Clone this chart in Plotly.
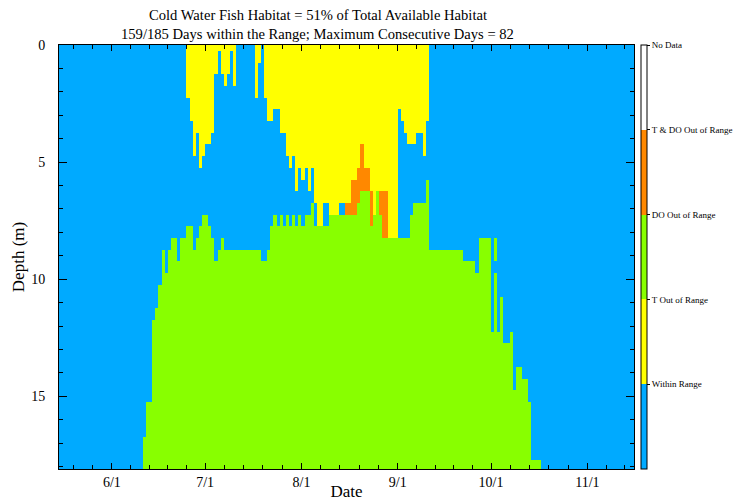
import numpy as np
import pandas as pd
import plotly.graph_objects as go

# ---------------- data ----------------
season_start = pd.Timestamp("2000-05-15")
n_days = 185
depth_step = 0.5
max_depth = 18.0

categories = ["Within Range", "T Out of Range", "DO Out of Range",
              "T & DO Out of Range", "No Data"]
cat_colors = ["#00AAFF", "#FFFF00", "#88FF00", "#FF8800", "#FFFFFF"]

# depth (m) down to which temperature is out of range (from surface), per day
yellow_first_day = 41
yellow_bottom = [2.25, 3.25, 4.75, 3.75, 5.25, 4.75, 4.25, 4.25, 3.75, 1.25,
                 0.25, 1.25, 1.75, 1.25, 0.25, 1.75, 0, 0, 0, 0,
                 0, 0, 2.25, 0.75, 0, 2.25, 3.25, 3.25, 2.75, 2.75,
                 3.75, 3.75, 4.75, 5.25, 4.75, 6.25, 5.25, 5.75, 5.25, 6.25,
                 5.25, 6.75, 7.75, 7.75, 6.75, 6.75, 7.25, 7.25, 7.25, 6.75,
                 6.75, 6.75, 6.75, 5.75, 5.75, 5.25, 4.25, 5.25, 5.25, 6.25,
                 7.25, 6.25, 6.25, 6.25, 6.25, 8.25, 8.25, 8.25, 2.75, 3.25,
                 3.75, 4.25, 4.25, 4.25, 3.75, 3.75, 4.75, 3.25]

# depth (m) down to which both T and DO are out of range (below yellow), per day
orange_first_day = 92
orange_bottom = [7.25, 7.25, 7.25, 7.25, 6.75, 6.25, 6.25, 6.25, 7.75, 0,
                 0, 7.25, 8.25, 8.25]

# depth (m) from which DO is out of range (down to the bottom), per day
green_first_day = 27
green_top = [16.75, 15.25, 15.25, 11.75, 11.25, 10.25, 8.75, 9.75, 8.75, 8.25,
             8.25, 9.25, 8.25, 8.25, 7.75, 7.75, 8.75, 8.25, 7.75, 7.25,
             7.25, 7.75, 8.25, 9.25, 8.75, 8.25, 8.75, 8.75, 8.75, 8.75,
             8.75, 8.75, 8.75, 8.75, 8.75, 8.75, 8.75, 8.75, 9.25, 9.25,
             8.75, 7.75, 7.25, 7.75, 7.25, 7.75, 7.25, 7.75, 7.25, 7.75,
             7.25, 7.75, 7.25, 7.25, 6.75, 7.75, 7.75, 7.75, 7.75, 7.75,
             7.25, 7.25, 7.25, 7.25, 7.25, 7.25, 7.25, 7.25, 7.25, 6.75,
             6.25, 6.25, 6.25, 7.75, 7.25, 6.25, 7.25, 8.25, 8.25, 8.25,
             8.25, 8.25, 8.25, 8.25, 8.25, 8.25, 7.25, 6.75, 6.75, 6.75,
             6.75, 5.75, 8.75, 8.75, 8.75, 8.75, 8.75, 8.75, 8.75, 8.75,
             8.75, 8.75, 8.75, 9.25, 9.25, 9.25, 9.25, 9.75, 8.25, 8.25,
             8.25, 8.25, 12.25, 8.25, 12.25, 10.75, 12.75, 12.75, 12.25, 14.75,
             13.75, 13.75, 14.25, 14.25, 15.25, 17.75, 17.75, 17.75]

# isolated within-range cells inside the DO region: (day, depth)
within_gaps = [(140, 9.5)]

month_starts = ["2000-05-01", "2000-06-01", "2000-07-01", "2000-08-01",
                "2000-09-01", "2000-10-01", "2000-11-01", "2000-12-01"]
major_labels = ["6/1", "7/1", "8/1", "9/1", "10/1", "11/1"]
depth_ticks = [0, 5, 10, 15]

# ---------------- build grid ----------------
depths = np.arange(0, max_depth + 1e-9, depth_step)
z = np.zeros((len(depths), n_days))
for k, yb in enumerate(yellow_bottom):
    d = yellow_first_day + k
    z[depths < yb, d] = 1
for k, gt in enumerate(green_top):
    d = green_first_day + k
    z[depths > gt, d] = 2
for k, ob in enumerate(orange_bottom):
    d = orange_first_day + k
    yb = yellow_bottom[d - yellow_first_day]
    if ob > 0:
        z[(depths > yb) & (depths < ob), d] = 3
for d, dep in within_gaps:
    z[np.isclose(depths, dep), d] = 0
z = z + 0.5

x_centers = np.arange(n_days) + 0.5

ncat = len(categories)
cscale = []
for i, c in enumerate(cat_colors):
    cscale.append([i / ncat, c])
    cscale.append([(i + 1) / ncat, c])

ms = [(pd.Timestamp(m) - season_start).days for m in month_starts]
major_vals = ms[1:7]
minor_vals = []
for a, b in zip(ms[:-1], ms[1:]):
    for j in range(1, 5):
        minor_vals.append(a + (b - a) * j / 5)

font_family = "Liberation Serif, Times New Roman, serif"

fig = go.Figure(go.Heatmap(
    x=x_centers, y=depths, z=z,
    zmin=0, zmax=ncat, colorscale=cscale, zsmooth=False,
    hoverinfo="skip",
    colorbar=dict(
        tickmode="array", tickvals=list(range(1, ncat + 1)), ticktext=categories,
        ticks="outside", ticklen=3, tickcolor="black", tickwidth=1,
        tickfont=dict(family=font_family, size=9, color="black"),
        thickness=6, thicknessmode="pixels", len=1, lenmode="fraction",
        x=1.013, xanchor="left", xpad=0, y=0.5, yanchor="middle", ypad=0,
        outlinewidth=1, outlinecolor="black",
    ),
))

# the page body adds an 8 px offset; the figure is sized to fit the window
fig.update_layout(
    width=740, height=493,
    margin=dict(l=51, r=114, t=37, b=32, autoexpand=False),
    paper_bgcolor="white", plot_bgcolor="white",
    font=dict(family=font_family, size=14, color="black"),
    showlegend=False,
    annotations=[
        dict(text="Cold Water Fish Habitat = 51% of Total Available Habitat",
             xref="paper", yref="paper", x=0.45, y=1.071, xanchor="center",
             yanchor="middle", showarrow=False, font=dict(size=14.6)),
        dict(text="159/185 Days within the Range; Maximum Consecutive Days = 82",
             xref="paper", yref="paper", x=0.45, y=1.027, xanchor="center",
             yanchor="middle", showarrow=False, font=dict(size=14.6)),
    ],
)
fig.update_xaxes(
    range=[0, n_days], showline=True, linecolor="black", linewidth=1,
    mirror="allticks", ticks="inside", ticklen=6, tickcolor="black",
    tickmode="array", tickvals=major_vals, ticktext=major_labels,
    minor=dict(tickmode="array", tickvals=minor_vals, ticks="inside",
               ticklen=4, tickcolor="black"),
    showgrid=False, zeroline=False, automargin=False,
    title=dict(text="Date", standoff=0),
)
fig.update_yaxes(
    range=[18.1, 0], showline=True, linecolor="black", linewidth=1,
    mirror="allticks", ticks="inside", ticklen=8, tickcolor="black",
    tickmode="array", tickvals=depth_ticks,
    minor=dict(dtick=1, ticks="inside", ticklen=4, tickcolor="black"),
    showgrid=False, zeroline=False, automargin=False,
    ticklabelstandoff=10,
    title=dict(text="Depth (m)", standoff=2),
)

fig.write_html("out.html")
